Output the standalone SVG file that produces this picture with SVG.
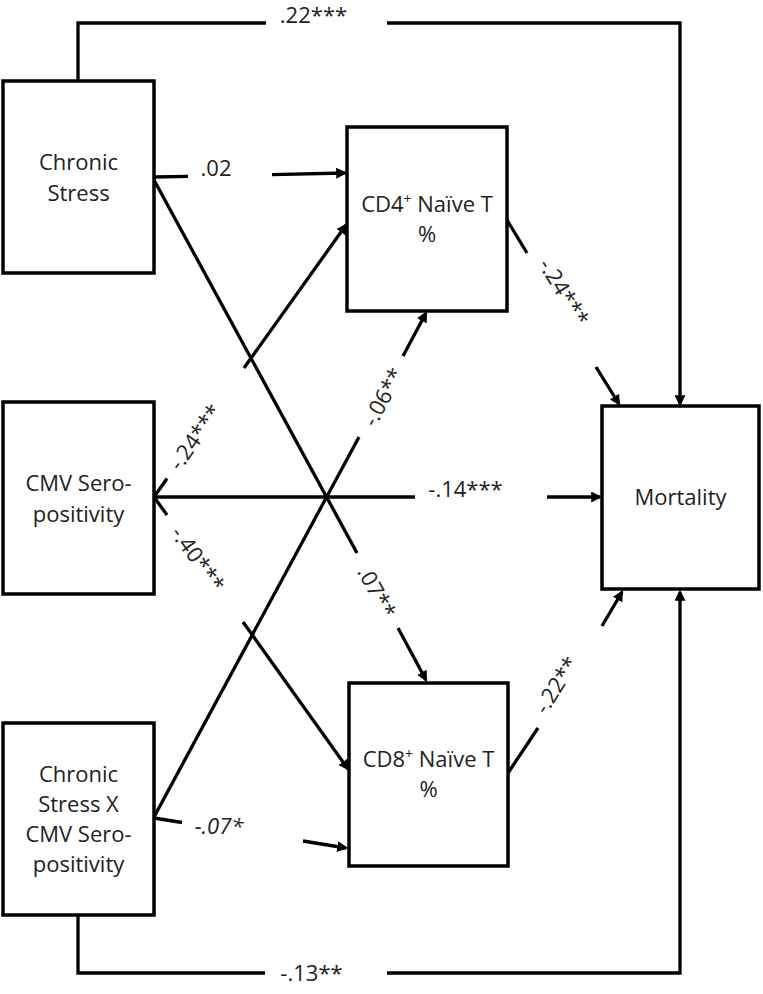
<svg xmlns="http://www.w3.org/2000/svg" width="763" height="994" viewBox="0 0 763 994">
<style>
.box{fill:#fff;stroke:#000;stroke-width:3.5}
.nt{font-family:"Open Sans","Liberation Sans",sans-serif;font-size:22px;fill:#222;text-anchor:middle}
.lb{font-family:"Open Sans","Liberation Sans",sans-serif;font-size:22px;fill:#222;text-anchor:middle}
.cn{fill:none;stroke:#000;stroke-width:3.3}
.ar{marker-end:url(#ah)}
</style>
<defs>
<marker id="ah" viewBox="0 0 10 10" refX="8" refY="5" markerWidth="11" markerHeight="11" markerUnits="userSpaceOnUse" orient="auto">
<path d="M0,0 L10,5 L0,10 z" fill="#000"/>
</marker>
</defs>
<rect width="763" height="994" fill="#fff"/>
<g id="connectors">
<path class="cn" d="M78,81 V23 H266"/>
<path class="cn ar" d="M387,23 H680 V404"/>
<path class="cn" d="M154,177 L188,176.3"/>
<path class="cn ar" d="M272,174.6 L345,173"/>
<path class="cn" d="M154,180 L357,553"/>
<path class="cn ar" d="M398,628 L426,680"/>
<path class="cn" d="M154,497 L167,478.5"/>
<path class="cn ar" d="M244,368 L346,225"/>
<path class="cn" d="M154,497 L167,515"/>
<path class="cn ar" d="M243,622 L348,769"/>
<path class="cn" d="M154,817 L359,437"/>
<path class="cn ar" d="M403,356 L426,313"/>
<path class="cn" d="M154,818 L182,822.5"/>
<path class="cn ar" d="M303,841 L346,848"/>
<path class="cn" d="M78,915 V973 H265"/>
<path class="cn ar" d="M387,973 H680 V592"/>
<path class="cn" d="M154,497 H415"/>
<path class="cn ar" d="M547,497 H600"/>
<path class="cn" d="M507,220 L527,253"/>
<path class="cn ar" d="M596,367 L619,404"/>
<path class="cn" d="M508,773 L538,728"/>
<path class="cn ar" d="M602,626 L622,592"/>
<text class="lb" x="313.5" y="23">.22***</text>
<text class="lb" x="216" y="176">.02</text>
<text class="lb" x="465.5" y="497">-.14***</text>
<text class="lb" x="311.5" y="981">-.13**</text>
<text class="lb" x="219" y="834" font-style="italic">-.07*</text>
<text class="lb" transform="translate(195,437) rotate(-54.8)" x="0" y="8">-.24***</text>
<text class="lb" transform="translate(198,559) rotate(54.5)" x="0" y="8">-.40***</text>
<text class="lb" transform="translate(383,397) rotate(-61.6)" x="0" y="8">-.06**</text>
<text class="lb" transform="translate(377,592) rotate(61.5)" x="0" y="8">.07**</text>
<text class="lb" transform="translate(564,292) rotate(58.7)" x="0" y="8">-.24***</text>
<text class="lb" transform="translate(556,685) rotate(-57.9)" x="0" y="8">-.22**</text>
</g>
<g id="chronic-stress">
<rect class="box" x="3" y="81" width="151" height="192"/>
<text class="nt" x="78.5" y="170">Chronic</text>
<text class="nt" x="78.5" y="201">Stress</text>
</g>
<g id="cmv">
<rect class="box" x="3" y="402" width="151" height="192"/>
<text class="nt" x="78.5" y="491">CMV Sero-</text>
<text class="nt" x="78.5" y="522">positivity</text>
</g>
<g id="interaction">
<rect class="box" x="3" y="723" width="151" height="192"/>
<text class="nt" x="78.5" y="782">Chronic</text>
<text class="nt" x="78.5" y="812">Stress X</text>
<text class="nt" x="78.5" y="842">CMV Sero-</text>
<text class="nt" x="78.5" y="872">positivity</text>
</g>
<g id="cd4">
<rect class="box" x="347" y="127" width="160" height="184"/>
<text class="nt" x="427" y="212">CD4<tspan font-size="14" dy="-8">+</tspan><tspan dy="8"> Naïve T</tspan></text>
<text class="nt" x="427" y="242">%</text>
</g>
<g id="cd8">
<rect class="box" x="349" y="683" width="159" height="183"/>
<text class="nt" x="428.5" y="767">CD8<tspan font-size="14" dy="-8">+</tspan><tspan dy="8"> Naïve T</tspan></text>
<text class="nt" x="428.5" y="797">%</text>
</g>
<g id="mortality">
<rect class="box" x="602" y="406" width="157" height="183"/>
<text class="nt" x="680.5" y="505">Mortality</text>
</g>
</svg>
